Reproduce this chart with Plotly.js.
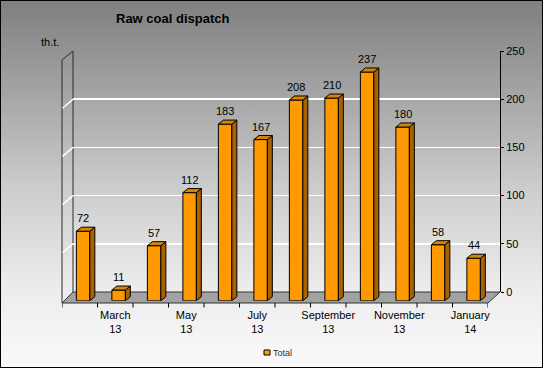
<!DOCTYPE html>
<html><head><meta charset="utf-8">
<script src="https://cdn.plot.ly/plotly-3.0.1.min.js"></script>
<style>
html,body{margin:0;padding:0;background:#fff;}
#wrap{position:relative;width:543px;height:368px;overflow:hidden;
 background:linear-gradient(to bottom,#7f7f7f 0%,#a4a4a4 25%,#cbcbcb 50%,#ececec 78%,#fafafa 100%);}
#chart{position:absolute;left:0;top:0;width:543px;height:368px;}
#frame{position:absolute;left:0;top:0;width:543px;height:368px;box-sizing:border-box;border:1px solid #000;pointer-events:none;}
</style></head><body>
<div id="wrap"><div id="chart"></div><div id="frame"></div></div>
<script>
// ---- data ----
const months = ['February 13','March 13','April 13','May 13','June 13','July 13','August 13','September 13','October 13','November 13','December 13','January 14'];
const tickLabels = ['','March<br>13','','May<br>13','','July<br>13','','September<br>13','','November<br>13','','January<br>14'];
const values = [72, 11, 57, 112, 183, 167, 208, 210, 237, 180, 58, 44];
const seriesName = 'Total';
const yTicks = [0, 50, 100, 150, 200, 250];
const titleText = 'Raw coal dispatch';
const unitText = 'th.t.';

// ---- geometry helpers (page pixels -> paper fractions) ----
const W = 543, H = 368;
const fx = p => p / W;
const fy = p => 1 - p / H;
const FONT = '"Liberation Sans", Arial, sans-serif';

const idx = months.map((_, i) => i);
const BW = 0.38, BOFF = -0.095;      // bar width / offset in category units
const DX = 0.14, DY = 4.2;           // 3D depth in data units
const boundaries = months.map((_, i) => i - 0.5).concat([months.length - 0.5]);

// side faces and top faces
const sx = [], sy = [], tx = [], ty = [];
values.forEach((v, i) => {
  const xl = i + BOFF, xr = xl + BW;
  sx.push(xr, xr + DX, xr + DX, xr, xr, null);
  sy.push(0, DY, v + DY, v, 0, null);
  tx.push(xl, xr, xr + DX, xl + DX, xl, null);
  ty.push(v, v, v + DY, v + DY, v, null);
});

const traces = [
  {type:'scatter', x:[], y:[], xaxis:'x', yaxis:'y', hoverinfo:'skip', showlegend:false},
  {type:'bar', name:seriesName, x:idx, y:values, xaxis:'x2', yaxis:'y2', width:BW, offset:BOFF,
   marker:{color:'#FF9900', line:{color:'#000', width:1}}, hoverinfo:'skip'},
  {type:'scatter', mode:'lines', x:sx, y:sy, xaxis:'x2', yaxis:'y2', fill:'toself', fillcolor:'#A86200',
   line:{color:'#000', width:1}, hoverinfo:'skip', showlegend:false},
  {type:'scatter', mode:'lines', x:tx, y:ty, xaxis:'x2', yaxis:'y2', fill:'toself', fillcolor:'#D98400',
   line:{color:'#000', width:1}, hoverinfo:'skip', showlegend:false}
];

// back wall pixel mapping for the left wall gridlines
const backY = v => 292 - v * (241 / 250);
const shapes = [];
const P = (x, y) => fx(x) + ',' + fy(y);
// floor
shapes.push({type:'path', xref:'paper', yref:'paper', layer:'below',
  path:'M' + P(62,303) + 'L' + P(488,303) + 'L' + P(500,292) + 'L' + P(73,292) + 'Z',
  fillcolor:'#a2a2a2', line:{color:'#333', width:1}});
// left wall edges
shapes.push({type:'path', xref:'paper', yref:'paper', layer:'below',
  path:'M' + P(62,303) + 'L' + P(62,60) + 'L' + P(73,51) + 'L' + P(73,292),
  line:{color:'#2a2a2a', width:1}});
// left wall gridlines
yTicks.filter(v => v > 0 && v < 250).forEach(v => {
  const b = backY(v);
  shapes.push({type:'line', xref:'paper', yref:'paper', layer:'below',
    x0:fx(62.5), y0:fy(b + 9), x1:fx(73), y1:fy(b), line:{color:'#ffffff', width:1.5}});
});
// boundary tick marks under the floor front edge
boundaries.forEach(b => {
  shapes.push({type:'line', xref:'x2', yref:'paper', x0:b, x1:b, y0:fy(303), y1:fy(307.5),
    line:{color:'#000', width:1}});
});
// legend swatch
shapes.push({type:'rect', xref:'paper', yref:'paper', x0:fx(264), x1:fx(270), y0:fy(355), y1:fy(350),
  fillcolor:'#FF9900', line:{color:'#000', width:1}});

const annotations = values.map((v, i) => ({
  xref:'x2', yref:'y2', x:i + BOFF + BW / 2, y:v, text:String(v), showarrow:false,
  xanchor:'center', yanchor:'bottom', yshift:5, font:{family:FONT, size:11, color:'#000'}
}));
annotations.push({xref:'paper', yref:'paper', x:fx(172), y:fy(19), xanchor:'center', yanchor:'middle',
  text:'<b>' + titleText + '</b>', showarrow:false, font:{family:FONT, size:13, color:'#000'}});
annotations.push({xref:'paper', yref:'paper', x:fx(39), y:fy(42), xanchor:'left', yanchor:'middle',
  text:unitText, showarrow:false, font:{family:FONT, size:11, color:'#000'}});
annotations.push({xref:'paper', yref:'paper', x:fx(270.5), y:fy(352.5), xanchor:'left', yanchor:'middle',
  text:seriesName, showarrow:false, font:{family:FONT, size:9, color:'#333'}});

const layout = {
  width:W, height:H, margin:{l:0, r:0, t:0, b:0},
  paper_bgcolor:'rgba(0,0,0,0)', plot_bgcolor:'rgba(0,0,0,0)',
  showlegend:false, font:{family:FONT, size:11, color:'#000'},
  xaxis:{domain:[fx(73), fx(500)], range:[0, 1], visible:false, fixedrange:true},
  yaxis:{domain:[fy(292), fy(51)], range:[0, 250], anchor:'x', side:'right',
    tickmode:'array', tickvals:yTicks, ticktext:yTicks.map(String), ticks:'outside', ticklen:3, tickcolor:'#000',
    showline:true, linecolor:'#000', linewidth:1, showgrid:true, gridcolor:'#ffffff', gridwidth:1.5,
    zeroline:true, zerolinecolor:'rgba(0,0,0,0)', tickfont:{family:FONT, size:11, color:'#000'}, fixedrange:true},
  xaxis2:{domain:[fx(62), fx(488)], range:[-0.5, 11.5], anchor:'free', position:fy(303),
    tickmode:'array', tickvals:idx, ticktext:tickLabels, ticks:'', showline:false, showgrid:false, zeroline:false,
    ticklabelstandoff:4, tickfont:{family:FONT, size:11, color:'#000'}, fixedrange:true},
  yaxis2:{domain:[fy(300.7), fy(59.5)], range:[0, 250], anchor:'x2', visible:false, fixedrange:true},
  shapes:shapes, annotations:annotations
};

Plotly.newPlot('chart', traces, layout, {staticPlot:true, displayModeBar:false});
</script>
</body></html>
